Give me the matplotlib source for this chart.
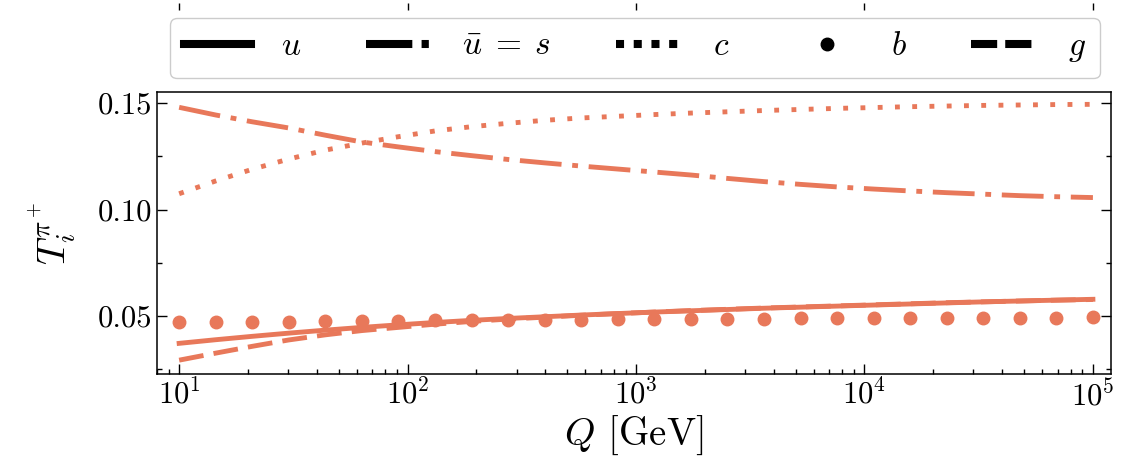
import numpy as np
import matplotlib
matplotlib.use('Agg')
import matplotlib.pyplot as plt
from matplotlib.ticker import MultipleLocator, FormatStrFormatter, LogLocator, NullFormatter

plt.rcParams['font.family'] = 'serif'
plt.rcParams['font.serif'] = ['cmr10']
plt.rcParams['mathtext.fontset'] = 'cm'
plt.rcParams['axes.unicode_minus'] = False
plt.rcParams['axes.formatter.use_mathtext'] = True

# scale grid in GeV
Q = np.array([10, 14.45, 20.89, 30.2, 43.65, 63.1, 91.2, 131.8, 190.5, 275.4,
              398.1, 575.4, 831.8, 1202, 1738, 2512, 3631, 5248, 7586, 10965,
              15849, 22909, 33113, 47863, 69183, 100000])

T_u = np.array([0.0372, 0.0389, 0.0405, 0.0420, 0.0434, 0.0447, 0.0459, 0.0470,
                0.0480, 0.0489, 0.0497, 0.0505, 0.0512, 0.0519, 0.0525, 0.0531,
                0.0537, 0.0542, 0.0547, 0.0552, 0.0557, 0.0562, 0.0567, 0.0571,
                0.0575, 0.0579])
T_ubar = np.array([0.1481, 0.1445, 0.1413, 0.1384, 0.1350, 0.1318, 0.1295, 0.1273,
                   0.1254, 0.1236, 0.1220, 0.1205, 0.1191, 0.1177, 0.1163, 0.1147,
                   0.1132, 0.1119, 0.1107, 0.1097, 0.1088, 0.1080, 0.1073, 0.1066,
                   0.1061, 0.1057])
T_c = np.array([0.1075, 0.1135, 0.1190, 0.1238, 0.1280, 0.1313, 0.1343, 0.1370,
                0.1390, 0.1406, 0.1420, 0.1431, 0.1439, 0.1447, 0.1454, 0.1460,
                0.1466, 0.1471, 0.1476, 0.1480, 0.1484, 0.1487, 0.1490, 0.1492,
                0.1494, 0.1495])
T_b = np.array([0.0470, 0.0471, 0.0473, 0.0474, 0.0476, 0.0477, 0.0479, 0.0480,
                0.0481, 0.0482, 0.0483, 0.0484, 0.0485, 0.0486, 0.0487, 0.0487,
                0.0488, 0.0489, 0.0489, 0.0490, 0.0491, 0.0491, 0.0492, 0.0492,
                0.0493, 0.0494])
T_g = np.array([0.0293, 0.0326, 0.0358, 0.0388, 0.0412, 0.0432, 0.0447, 0.0462,
                0.0475, 0.0486, 0.0495, 0.0504, 0.0512, 0.0519, 0.0526, 0.0532,
                0.0538, 0.0543, 0.0548, 0.0553, 0.0558, 0.0563, 0.0567, 0.0571,
                0.0575, 0.0578])

col = '#e8785a'
lw = 3.5

fig = plt.figure(figsize=(11.35, 4.66), dpi=100)
ax = fig.add_axes([157/1135, 1 - 374/466, 954/1135, 282/466])

ax.plot(Q, T_u, color=col, lw=lw, ls='-', label='$u$')
ax.plot(Q, T_ubar, color=col, lw=lw, ls=(0, (8.6, 2.2, 1.2, 2.2)), label=r'$\bar{u}\;=\;s$')
ax.plot(Q, T_c, color=col, lw=lw, ls=(0, (1.0, 2.55)), label='$c$')
ax.plot(Q, T_b, color=col, ls='none', marker='o', ms=9, label='$b$')
ax.plot(Q, T_g, color=col, lw=lw, ls=(0, (5.1, 2.1)), label='$g$')

ax.set_xscale('log')
ax.set_xlim(8, 1.2e5)
ax.set_ylim(0.0228, 0.1553)
ax.yaxis.set_major_locator(MultipleLocator(0.05))
ax.yaxis.set_minor_locator(MultipleLocator(0.025))
ax.yaxis.set_major_formatter(FormatStrFormatter('%.2f'))
ax.xaxis.set_minor_locator(LogLocator(base=10, subs=np.arange(2, 10), numticks=20))
ax.xaxis.set_minor_formatter(NullFormatter())

ax.tick_params(which='both', direction='in', top=False, right=True, width=1.0,
               labelsize=22)
ax.tick_params(which='major', length=7)
ax.tick_params(which='minor', length=3.5)
for s in ax.spines.values():
    s.set_linewidth(1.1)

ax.set_xlabel(r'$Q$ [GeV]', fontsize=28, labelpad=2)
ax.set_ylabel(r'$T_i^{\pi^+}$', fontsize=28, labelpad=14)

# tick marks of the panel above, peeking in at the top edge
axt = fig.add_axes([157/1135, 1.0 - 3/466, 954/1135, 0.05])
axt.set_xscale('log')
axt.set_xlim(8, 1.2e5)
axt.set_yticks([])
axt.xaxis.set_minor_locator(LogLocator(base=10, subs=np.arange(2, 10), numticks=20))
axt.tick_params(axis='x', which='major', direction='out', length=5, width=1.0,
                labelbottom=False)
axt.tick_params(axis='x', which='minor', length=0)
axt.patch.set_visible(False)
for s in axt.spines.values():
    s.set_visible(False)

leg = fig.legend(loc='upper left', bbox_to_anchor=(170/1135, 1 - 18/466, 930/1135, 0.0),
                 mode='expand', ncol=5, fontsize=24, handlelength=2.0,
                 handletextpad=0.9, borderaxespad=0, borderpad=0.42,
                 fancybox=True, edgecolor='0.8', framealpha=1, numpoints=1)

# legend keys are drawn thicker and in black
key_styles = ['-', (0, (5.75, 1.15, 0.9, 1.4)), (0, (1.0, 1.2)), 'none', (0, (3.25, 1.0))]
for h, st in zip(leg.legend_handles, key_styles):
    h.set_color('k')
    h.set_markerfacecolor('k')
    h.set_markeredgecolor('k')
    h.set_linewidth(5.8)
    h.set_linestyle(st)

fig.savefig('out.png', dpi=100)
